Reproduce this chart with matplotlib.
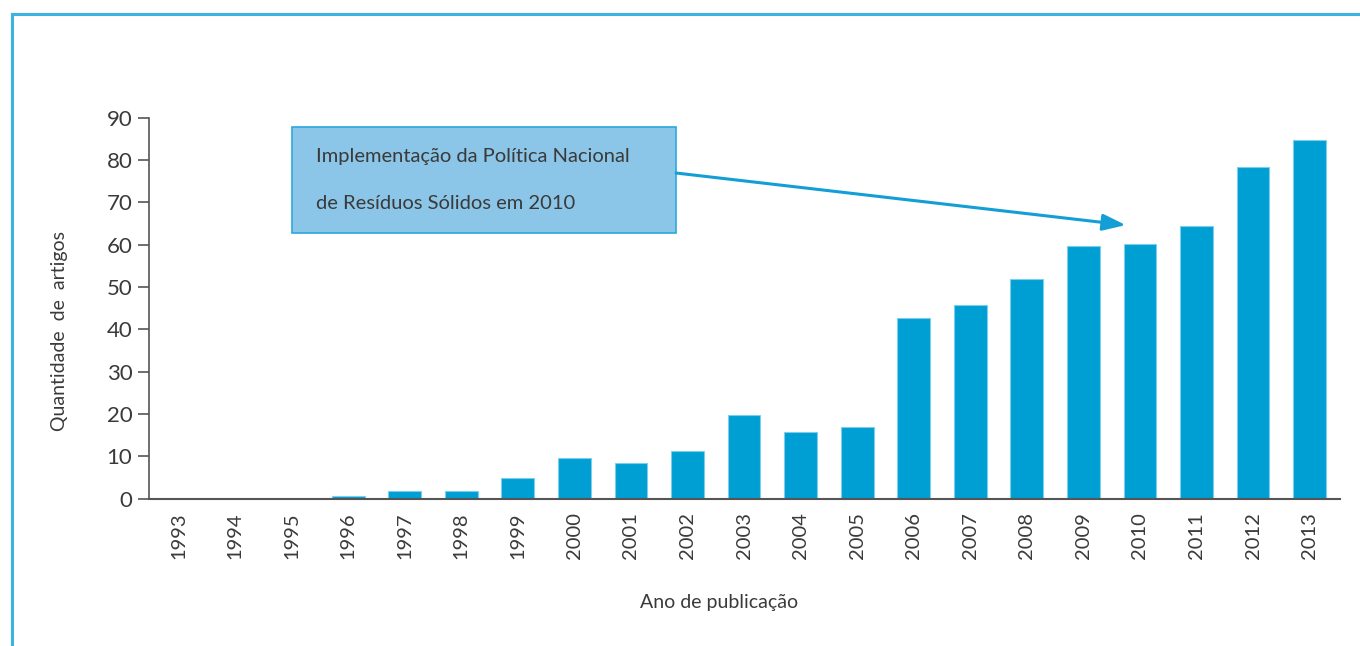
import matplotlib
matplotlib.use("Agg")
import matplotlib.pyplot as plt
from matplotlib.patches import Rectangle
from matplotlib.lines import Line2D

# dados
anos = ['1993', '1994', '1995', '1996', '1997', '1998', '1999', '2000', '2001', '2002',
        '2003', '2004', '2005', '2006', '2007', '2008', '2009', '2010', '2011', '2012', '2013']
artigos = [0, 0, 0, 0.6, 1.8, 1.8, 4.8, 9.6, 8.3, 11.3,
           19.8, 15.6, 16.8, 42.7, 45.7, 51.8, 59.6, 60.2, 64.4, 78.4, 84.7]
y_ticks = [0, 10, 20, 30, 40, 50, 60, 70, 80, 90]
nota = ['Implementação da Política Nacional', 'de Resíduos Sólidos em 2010']

plt.rcParams['font.family'] = ['Lato', 'DejaVu Sans']
cor_texto = '#3a3a3a'
cor_barra = '#009fd3'
cor_moldura = '#3db4e0'

fig = plt.figure(figsize=(13.6, 6.46), dpi=100)
ax = fig.add_axes([0.1096, 0.2283, 0.8754, 0.5897])

x = list(range(len(anos)))
ax.bar(x, artigos, width=0.58, color=cor_barra, edgecolor='#7fcdec', linewidth=0.8, zorder=2)

ax.set_xlim(-0.52, len(anos) - 0.47)
ax.set_ylim(0, 90)
ax.set_yticks(y_ticks)
ax.set_xticks(x)
ax.set_xticklabels(anos, rotation=90, fontsize=14.5, color=cor_texto)
ax.set_yticklabels([str(v) for v in y_ticks], fontsize=16, color=cor_texto)
ax.tick_params(axis='x', length=0, pad=10)
ax.tick_params(axis='y', length=8, width=1.2, color='#555555', pad=4)

for s in ['top', 'right']:
    ax.spines[s].set_visible(False)
ax.spines['left'].set_color('#555555')
ax.spines['bottom'].set_color('#555555')
ax.spines['left'].set_linewidth(1.2)
ax.spines['bottom'].set_linewidth(1.5)

ax.set_ylabel('Quantidade  de  artigos', fontsize=14, color=cor_texto)
ax.set_xlabel('Ano de publicação', fontsize=14, color=cor_texto)
ax.yaxis.set_label_coords(-0.068, 0.44)
ax.xaxis.set_label_coords(0.479, -0.25)

# caixa de anotação
ax.add_patch(Rectangle((2.0, 62.7), 6.8, 25.1, facecolor='#8bc5e7', edgecolor='#2aa8dc',
                       linewidth=1.2, clip_on=False, zorder=3))
ax.text(2.44, 80.7, nota[0], fontsize=14.5, color=cor_texto, va='center', zorder=4)
ax.text(2.44, 69.8, nota[1], fontsize=14.5, color=cor_texto, va='center', zorder=4)
ax.annotate('', xy=(16.75, 64.6), xytext=(8.8, 76.9),
            arrowprops=dict(arrowstyle='-|>,head_length=1.4,head_width=0.5',
                            color='#139ed6', lw=2.2, shrinkA=0, shrinkB=0), zorder=4)

# moldura
fig.add_artist(Line2D([12 / 1360, 12 / 1360], [0, 1 - 14 / 646], color=cor_moldura, lw=2.2))
fig.add_artist(Line2D([12 / 1360, 1], [1 - 14 / 646, 1 - 14 / 646], color=cor_moldura, lw=2.2))

fig.savefig('out.png', dpi=100)
